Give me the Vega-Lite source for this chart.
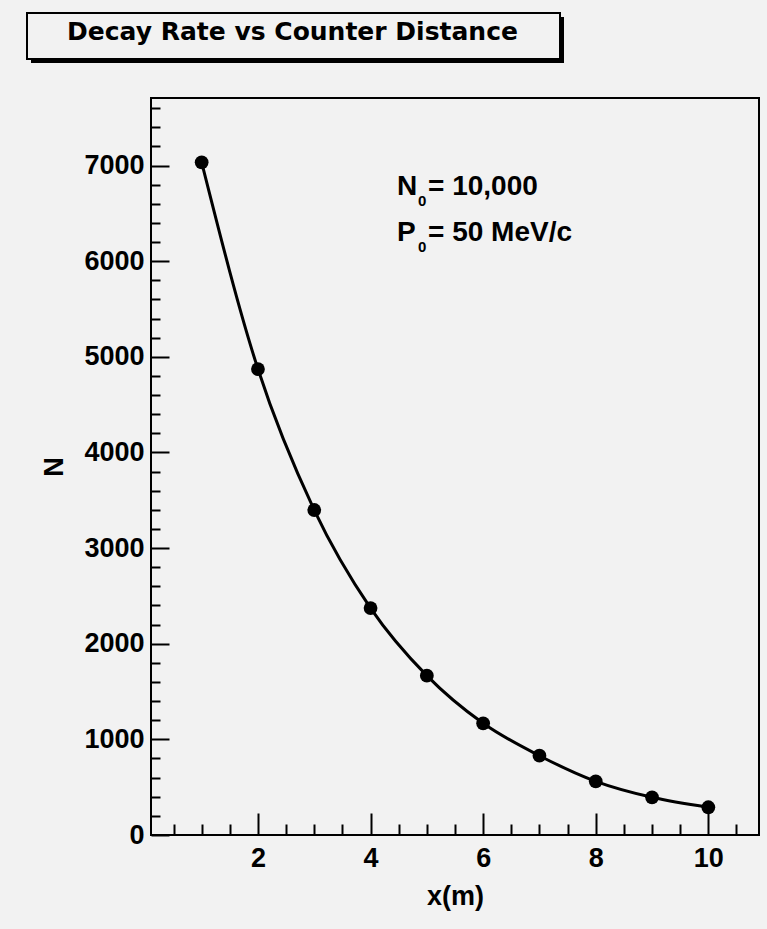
{
  "$schema": "https://vega.github.io/schema/vega-lite/v6.json",
  "background": "#f2f2f2",
  "padding": {"left": 26, "top": 12, "right": 30, "bottom": 40},
  "autosize": {"type": "pad"},
  "spacing": 34,
  "align": "none",
  "config": {"font": "Liberation Sans"},
  "vconcat": [
    {
      "width": 533,
      "height": 46,
      "view": {"stroke": null},
      "data": {"values": [{"title": "Decay Rate vs Counter Distance"}]},
      "layer": [
        {
          "mark": {"type": "rect", "color": "black", "xOffset": -120, "x2Offset": -120, "yOffset": 4, "y2Offset": 4},
          "encoding": {"x": {"value": 0}, "x2": {"value": "width"}, "y": {"value": 0}, "y2": {"value": "height"}}
        },
        {
          "mark": {"type": "rect", "fill": "#f2f2f2", "stroke": "black", "strokeWidth": 2, "xOffset": -124, "x2Offset": -124},
          "encoding": {"x": {"value": 0}, "x2": {"value": "width"}, "y": {"value": 0}, "y2": {"value": "height"}}
        },
        {"mark": {"type": "text", "font": "DejaVu Sans", "fontWeight": "bold", "fontSize": 25, "color": "black", "xOffset": -125, "yOffset": 4, "baseline": "alphabetic"}, "encoding": {"text": {"field": "title"}}}
      ]
    },
    {
      "width": 608,
      "height": 737,
      "view": {"stroke": "black", "strokeWidth": 2},
      "data": {"values": [
        {"x": 1, "n": 7034},
        {"x": 2, "n": 4872},
        {"x": 3, "n": 3398},
        {"x": 4, "n": 2373},
        {"x": 5, "n": 1666},
        {"x": 6, "n": 1168},
        {"x": 7, "n": 829},
        {"x": 8, "n": 561},
        {"x": 9, "n": 394},
        {"x": 10, "n": 290}
      ]},
      "resolve": {"scale": {"x": "independent", "y": "independent"}},
      "layer": [
        {
          "mark": {"type": "point", "opacity": 0},
          "encoding": {
            "x": {
              "field": "x", "type": "quantitative",
              "scale": {"domain": [0.1, 10.9], "nice": false, "zero": false},
              "axis": {
                "orient": "bottom", "title": null, "labels": false,
                "values": [0.5, 1, 1.5, 2.5, 3, 3.5, 4.5, 5, 5.5, 6.5, 7, 7.5, 8.5, 9, 9.5, 10.5],
                "tickSize": -11, "tickWidth": 2, "tickColor": "black",
                "domain": false, "grid": false
              }
            },
            "y": {
              "field": "n", "type": "quantitative",
              "scale": {"domain": [0, 7706], "nice": false},
              "axis": {
                "orient": "left", "title": null, "labels": false,
                "values": [200, 400, 600, 800, 1200, 1400, 1600, 1800, 2200, 2400, 2600, 2800, 3200, 3400, 3600, 3800, 4200, 4400, 4600, 4800, 5200, 5400, 5600, 5800, 6200, 6400, 6600, 6800, 7200, 7400, 7600],
                "tickSize": -9, "tickWidth": 2, "tickColor": "black",
                "domain": false, "grid": false
              }
            }
          }
        },
        {
          "layer": [
            {
              "mark": {"type": "line", "interpolate": "monotone", "color": "black", "strokeWidth": 3},
              "encoding": {
                "x": {
                  "field": "x", "type": "quantitative",
                  "scale": {"domain": [0.1, 10.9], "nice": false, "zero": false},
                  "axis": {
                    "orient": "bottom", "title": "x(m)",
                    "values": [2, 4, 6, 8, 10], "format": "d",
                    "tickSize": -22, "tickWidth": 2, "tickColor": "black",
                    "domain": false, "grid": false,
                    "labelFont": "Liberation Sans", "labelFontWeight": "bold", "labelFontSize": 27, "labelColor": "black",
                    "labelPadding": 32, "labelFlush": false, "labelOverlap": false,
                    "titleFont": "Liberation Sans", "titleFontWeight": "bold", "titleFontSize": 27, "titleColor": "black",
                    "titlePadding": 12
                  }
                },
                "y": {
                  "field": "n", "type": "quantitative",
                  "scale": {"domain": [0, 7706], "nice": false},
                  "axis": {
                    "orient": "left", "title": "N",
                    "values": [0, 1000, 2000, 3000, 4000, 5000, 6000, 7000], "format": "d",
                    "tickSize": -18, "tickWidth": 2, "tickColor": "black",
                    "domain": false, "grid": false,
                    "labelFont": "Liberation Sans", "labelFontWeight": "bold", "labelFontSize": 27, "labelColor": "black",
                    "labelPadding": 25, "labelFlush": false, "labelOverlap": false,
                    "titleFont": "Liberation Sans", "titleFontWeight": "bold", "titleFontSize": 27, "titleColor": "black",
                    "titlePadding": 15
                  }
                }
              }
            },
            {
              "mark": {"type": "point", "filled": true, "shape": "circle", "size": 190, "color": "black", "opacity": 1},
              "encoding": {
                "x": {"field": "x", "type": "quantitative", "scale": {"domain": [0.1, 10.9], "nice": false, "zero": false}},
                "y": {"field": "n", "type": "quantitative", "scale": {"domain": [0, 7706], "nice": false}}
              }
            },
            {
              "data": {"values": [{"t": "N"}]},
              "mark": {"type": "text", "align": "left", "baseline": "alphabetic", "font": "Liberation Sans", "fontSize": 28, "fontWeight": "bold", "color": "black"},
              "encoding": {"x": {"datum": 4.47, "type": "quantitative"}, "y": {"datum": 6695, "type": "quantitative"}, "text": {"field": "t"}}
            },
            {
              "data": {"values": [{"t": "0"}]},
              "mark": {"type": "text", "align": "left", "baseline": "alphabetic", "font": "Liberation Sans", "fontSize": 15, "fontWeight": "bold", "color": "black", "dx": 21, "dy": 11},
              "encoding": {"x": {"datum": 4.47, "type": "quantitative"}, "y": {"datum": 6695, "type": "quantitative"}, "text": {"field": "t"}}
            },
            {
              "data": {"values": [{"t": "= 10,000"}]},
              "mark": {"type": "text", "align": "left", "baseline": "alphabetic", "font": "Liberation Sans", "fontSize": 28, "fontWeight": "bold", "color": "black", "dx": 31},
              "encoding": {"x": {"datum": 4.47, "type": "quantitative"}, "y": {"datum": 6695, "type": "quantitative"}, "text": {"field": "t"}}
            },
            {
              "data": {"values": [{"t": "P"}]},
              "mark": {"type": "text", "align": "left", "baseline": "alphabetic", "font": "Liberation Sans", "fontSize": 28, "fontWeight": "bold", "color": "black"},
              "encoding": {"x": {"datum": 4.47, "type": "quantitative"}, "y": {"datum": 6208, "type": "quantitative"}, "text": {"field": "t"}}
            },
            {
              "data": {"values": [{"t": "0"}]},
              "mark": {"type": "text", "align": "left", "baseline": "alphabetic", "font": "Liberation Sans", "fontSize": 15, "fontWeight": "bold", "color": "black", "dx": 21, "dy": 11},
              "encoding": {"x": {"datum": 4.47, "type": "quantitative"}, "y": {"datum": 6208, "type": "quantitative"}, "text": {"field": "t"}}
            },
            {
              "data": {"values": [{"t": "= 50 MeV/c"}]},
              "mark": {"type": "text", "align": "left", "baseline": "alphabetic", "font": "Liberation Sans", "fontSize": 28, "fontWeight": "bold", "color": "black", "dx": 31},
              "encoding": {"x": {"datum": 4.47, "type": "quantitative"}, "y": {"datum": 6208, "type": "quantitative"}, "text": {"field": "t"}}
            }
          ]
        }
      ]
    }
  ]
}
